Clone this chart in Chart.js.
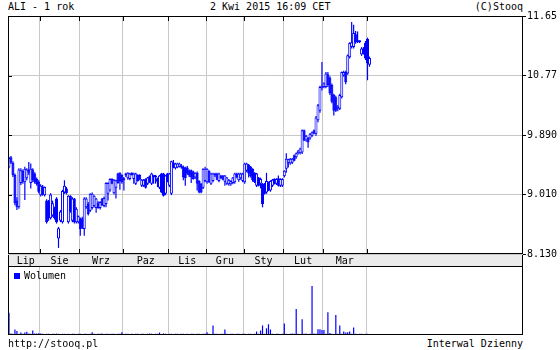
<!DOCTYPE html>
<html>
<head>
<meta charset="utf-8">
<script src="https://cdn.jsdelivr.net/npm/chart.js@4.4.1/dist/chart.umd.min.js"></script>
<style>
  body { margin: 0; background: #fff; }
  #wrap { position: relative; width: 560px; height: 350px; overflow: hidden; font: 10px 'DejaVu Sans Mono', monospace; line-height: 12px; color: #000; }
  #wrap div, #wrap canvas { position: absolute; }
  .txt { white-space: pre; }
  #strip { left: 8px; top: 254px; width: 515px; height: 12px; background: #ebebeb; border-left: 1px solid #000; border-right: 1px solid #000; box-sizing: border-box; }
  #legendBox { left: 14px; top: 273px; width: 6px; height: 6px; background: #0000ff; }
</style>
</head>
<body>
<div id="wrap">
  <div class="txt" style="left:8px;top:1px">ALI - 1 rok</div>
  <div class="txt" style="left:210px;top:1px">2 Kwi 2015 16:09 CET</div>
  <div class="txt" style="right:37px;top:1px">(C)Stooq</div>
  <div id="strip"></div>
  <canvas id="price" width="560" height="266" style="left:0;top:0"></canvas>
  <canvas id="volume" width="560" height="70" style="left:0;top:266px"></canvas>
  <div id="legendBox"></div>
  <div class="txt" style="left:24px;top:270px">Wolumen</div>
  <div class="txt" style="left:8px;top:338px">http://stooq.pl</div>
  <div class="txt" style="right:37px;top:338px">Interwal Dzienny</div>
</div>
<script>
const monthLabels = ['Lip', 'Sie', 'Wrz', 'Paz', 'Lis', 'Gru', 'Sty', 'Lut', 'Mar']
const monthTicks = [9, 26, 47, 69.5, 90.5, 109.5, 129, 149, 170]
const monthStarts = [16, 36, 58, 81, 100, 119, 139, 159, 181]
const priceTicks = [8.13, 9.01, 9.89, 10.77, 11.65]

const openPrices = [
  9.41, 9.56, 9.48, 9.30, 8.92, 8.82, 9.18, 9.36, 9.19, 9.25,
  9.38, 9.18, 9.38, 9.32, 9.24, 9.20, 9.00, 9.13, 9.00, 8.92,
  8.90, 8.66, 8.70, 8.81, 8.95, 8.36, 8.62, 8.60, 9.04, 9.10,
  8.60, 8.99, 8.62, 8.95, 8.60, 8.60, 8.65, 8.66, 8.50, 8.82,
  8.87, 8.77, 8.81, 8.84, 8.81, 8.89, 8.81, 8.95, 8.84, 8.87,
  9.02, 9.07, 9.24, 9.03, 9.11, 9.32, 9.33, 9.30, 9.25, 9.29,
  9.25, 9.24, 9.33, 9.24, 9.17, 9.30, 9.30, 9.14, 9.14, 9.24,
  9.17, 9.28, 9.17, 9.27, 9.26, 9.25, 9.11, 9.32, 9.32, 9.02,
  9.32, 9.14, 9.02, 9.48, 9.40, 9.41, 9.42, 9.41, 9.42, 9.41,
  9.41, 9.37, 9.37, 9.35, 9.26, 9.33, 9.21, 9.17, 9.11, 9.21,
  9.19, 9.36, 9.17, 9.21, 9.29, 9.32, 9.21, 9.29, 9.29, 9.20,
  9.17, 9.16, 9.16, 9.18, 9.19, 9.32, 9.22, 9.25, 9.21, 9.19,
  9.36, 9.45, 9.42, 9.39, 9.33, 9.14, 9.26, 9.17, 9.17, 9.17,
  9.04, 9.19, 9.07, 9.14, 9.24, 9.17, 9.25, 9.14, 9.14, 9.28,
  9.39, 9.48, 9.47, 9.48, 9.59, 9.56, 9.62, 9.62, 9.63, 9.96,
  9.81, 9.85, 9.84, 9.88, 9.96, 9.91, 10.11, 10.25, 10.58, 10.60,
  10.60, 10.79, 10.74, 10.63, 10.48, 10.45, 10.28, 10.28, 10.45, 10.77,
  10.82, 10.80, 11.04, 11.19, 11.19, 11.38, 11.26, 11.28, 11.08, 11.17,
  11.25, 11.31, 10.93
]
const highPrices = [
  9.57, 9.58, 9.50, 9.32, 8.97, 9.40, 9.40, 9.38, 9.42, 9.40,
  9.49, 9.47, 9.40, 9.34, 9.26, 9.22, 9.16, 9.15, 9.13, 8.94,
  8.93, 9.03, 8.92, 8.83, 8.97, 8.53, 8.78, 9.08, 9.22, 9.12,
  9.00, 9.00, 8.97, 8.96, 8.82, 8.70, 8.67, 8.68, 8.97, 8.97,
  8.90, 9.03, 9.04, 9.00, 8.96, 8.91, 8.91, 8.96, 8.98, 9.19,
  9.19, 9.25, 9.25, 9.24, 9.23, 9.33, 9.34, 9.31, 9.27, 9.33,
  9.34, 9.33, 9.34, 9.33, 9.33, 9.31, 9.31, 9.24, 9.24, 9.25,
  9.27, 9.29, 9.33, 9.30, 9.30, 9.26, 9.30, 9.33, 9.33, 9.30,
  9.33, 9.33, 9.51, 9.52, 9.48, 9.48, 9.48, 9.46, 9.44, 9.42,
  9.43, 9.38, 9.38, 9.36, 9.34, 9.35, 9.22, 9.18, 9.40, 9.42,
  9.40, 9.37, 9.33, 9.33, 9.33, 9.33, 9.33, 9.30, 9.30, 9.30,
  9.27, 9.24, 9.22, 9.27, 9.33, 9.33, 9.33, 9.33, 9.33, 9.48,
  9.48, 9.46, 9.43, 9.40, 9.34, 9.33, 9.27, 9.26, 9.18, 9.18,
  9.33, 9.20, 9.22, 9.24, 9.25, 9.25, 9.29, 9.25, 9.25, 9.37,
  9.62, 9.54, 9.55, 9.55, 9.60, 9.63, 9.67, 9.70, 9.97, 9.97,
  9.89, 9.86, 9.92, 9.94, 9.97, 10.17, 10.35, 10.62, 10.97, 10.67,
  10.82, 10.82, 10.76, 10.65, 10.50, 10.47, 10.33, 10.50, 10.83, 10.84,
  10.84, 11.08, 11.26, 11.56, 11.52, 11.43, 11.42, 11.29, 11.19, 11.19,
  11.28, 11.33, 11.05
]
const lowPrices = [
  9.40, 9.46, 9.27, 8.85, 8.78, 8.80, 9.15, 9.17, 8.93, 9.22,
  9.30, 9.10, 9.19, 9.17, 9.14, 9.03, 8.98, 8.99, 8.98, 8.58,
  8.62, 8.64, 8.68, 8.64, 8.58, 8.22, 8.60, 8.58, 9.02, 9.01,
  8.58, 8.74, 8.60, 8.58, 8.58, 8.58, 8.40, 8.50, 8.40, 8.80,
  8.70, 8.75, 8.79, 8.82, 8.74, 8.80, 8.79, 8.84, 8.82, 8.82,
  8.92, 9.05, 9.16, 9.01, 8.95, 9.17, 9.08, 9.17, 9.07, 9.27,
  9.23, 9.22, 9.29, 9.17, 9.15, 9.20, 9.22, 9.12, 9.12, 9.10,
  9.15, 9.18, 9.15, 9.17, 9.17, 9.12, 9.09, 9.03, 8.98, 9.00,
  9.19, 9.12, 9.00, 9.40, 9.38, 9.40, 9.41, 9.39, 9.22, 9.14,
  9.30, 9.27, 9.18, 9.23, 9.24, 9.07, 9.03, 9.03, 9.09, 9.19,
  9.17, 9.18, 9.15, 9.19, 9.27, 9.22, 9.19, 9.24, 9.22, 9.14,
  9.15, 9.14, 9.14, 9.16, 9.17, 9.25, 9.20, 9.23, 9.19, 9.17,
  9.34, 9.26, 9.26, 9.20, 9.18, 9.12, 9.13, 9.10, 8.82, 9.01,
  9.02, 9.06, 9.05, 9.12, 9.16, 9.15, 9.13, 9.12, 9.12, 9.26,
  9.33, 9.41, 9.45, 9.46, 9.50, 9.54, 9.60, 9.60, 9.61, 9.80,
  9.79, 9.70, 9.82, 9.86, 9.90, 9.88, 10.08, 10.22, 10.55, 10.58,
  10.58, 10.60, 10.48, 10.36, 10.18, 10.23, 10.24, 10.26, 10.43, 10.75,
  10.64, 10.78, 11.02, 11.17, 11.17, 11.24, 11.25, 11.25, 11.06, 11.08,
  11.00, 10.70, 10.90
]
const closePrices = [
  9.55, 9.48, 9.30, 8.88, 8.82, 9.38, 9.37, 9.20, 9.39, 9.38,
  9.33, 9.39, 9.22, 9.19, 9.16, 9.05, 9.14, 9.01, 9.12, 8.60,
  8.66, 9.01, 8.88, 8.66, 8.60, 8.51, 8.76, 9.06, 9.14, 9.03,
  8.99, 8.76, 8.95, 8.60, 8.80, 8.69, 8.50, 8.52, 8.95, 8.95,
  8.72, 9.02, 9.02, 8.99, 8.95, 8.81, 8.90, 8.85, 8.96, 9.18,
  9.18, 9.24, 9.17, 9.23, 9.22, 9.18, 9.21, 9.19, 9.22, 9.32,
  9.33, 9.32, 9.30, 9.32, 9.32, 9.21, 9.23, 9.23, 9.23, 9.11,
  9.26, 9.20, 9.32, 9.29, 9.29, 9.20, 9.29, 9.04, 8.99, 9.29,
  9.20, 9.32, 9.50, 9.41, 9.47, 9.47, 9.47, 9.44, 9.27, 9.25,
  9.32, 9.29, 9.26, 9.24, 9.33, 9.17, 9.04, 9.04, 9.39, 9.39,
  9.39, 9.19, 9.32, 9.32, 9.32, 9.23, 9.32, 9.25, 9.23, 9.29,
  9.26, 9.23, 9.21, 9.26, 9.32, 9.26, 9.32, 9.32, 9.32, 9.47,
  9.47, 9.32, 9.28, 9.22, 9.19, 9.32, 9.14, 9.24, 8.87, 9.02,
  9.21, 9.07, 9.21, 9.23, 9.17, 9.24, 9.14, 9.24, 9.24, 9.36,
  9.54, 9.53, 9.54, 9.54, 9.51, 9.62, 9.66, 9.69, 9.96, 9.81,
  9.88, 9.78, 9.91, 9.93, 9.91, 10.15, 10.33, 10.60, 10.62, 10.65,
  10.80, 10.63, 10.51, 10.38, 10.25, 10.25, 10.31, 10.48, 10.82, 10.82,
  10.67, 11.07, 11.25, 11.26, 11.40, 11.26, 11.28, 11.26, 11.17, 11.10,
  11.02, 10.95, 11.03
]
const volumes = [
  110, 7, 6, 27, 20, 6, 12, 6, 12, 16,
  7, 6, 22, 8, 8, 9, 8, 6, 5, 6,
  6, 5, 6, 6, 7, 6, 5, 6, 6, 5,
  6, 5, 6, 6, 5, 6, 6, 5, 6, 6,
  5, 6, 13, 6, 5, 6, 6, 8, 5, 6,
  6, 5, 6, 6, 5, 6, 6, 13, 5, 6,
  6, 5, 6, 5, 6, 6, 5, 6, 6, 5,
  6, 8, 6, 5, 6, 6, 12, 5, 8, 6,
  5, 6, 6, 5, 6, 6, 5, 6, 6, 5,
  6, 5, 6, 6, 5, 6, 6, 5, 6, 6,
  13, 6, 5, 47, 6, 6, 5, 6, 6, 27,
  6, 5, 6, 6, 5, 6, 6, 5, 6, 6,
  5, 6, 6, 5, 6, 17, 6, 22, 47, 6,
  33, 53, 27, 6, 5, 6, 6, 5, 6, 57,
  6, 5, 6, 8, 6, 128, 6, 5, 78, 6,
  8, 5, 6, 242, 8, 6, 28, 28, 25, 25,
  6, 112, 10, 6, 5, 98, 6, 47, 6, 17,
  12, 13, 17, 6, 37, 6, 5, 6, 6, 5,
  6, 6, 5
]

const BLUE = '#0000ff'
const GRID = '#c8c8c8'
const axisDays = 260

Chart.defaults.font.family = "'DejaVu Sans Mono', monospace"
Chart.defaults.font.size = 10
Chart.defaults.color = '#000'

// black box round the plot area
const framePlugin = {
  id: 'frame',
  afterDraw(chart) {
    const { ctx, chartArea: a } = chart
    ctx.save()
    ctx.strokeStyle = '#000'
    ctx.lineWidth = 1
    ctx.strokeRect(a.left + 0.5, a.top + 0.5, a.right - a.left - 1, a.bottom - a.top - 1)
    ctx.restore()
  }
}

// short tick marks pointing into the price panel
const innerTicks = {
  id: 'innerTicks',
  afterDraw(chart) {
    const { ctx, chartArea: a, scales } = chart
    ctx.save()
    ctx.strokeStyle = '#000'
    ctx.lineWidth = 1
    ctx.beginPath()
    monthStarts.forEach(v => {
      const px = Math.round(scales.x.getPixelForValue(v)) + 0.5
      ctx.moveTo(px, a.top)
      ctx.lineTo(px, a.top + 5)
      ctx.moveTo(px, a.bottom)
      ctx.lineTo(px, a.bottom - 5)
    })
    priceTicks.slice(1, -1).forEach(v => {
      const py = Math.round(scales.y.getPixelForValue(v)) + 0.5
      ctx.moveTo(a.left, py)
      ctx.lineTo(a.left + 4, py)
    })
    ctx.stroke()
    ctx.restore()
  }
}

const monthGrid = {
  type: 'linear',
  min: 0,
  max: axisDays,
  offset: false,
  grid: { color: GRID, offset: false, drawTicks: false },
  border: { display: false },
  ticks: { display: false },
  afterBuildTicks: s => { s.ticks = monthStarts.map(v => ({ value: v })) },
  afterFit: s => { s.height = 0 }
}

const wicks = lowPrices.map((l, i) => ({ x: i + 0.5, y: [l, highPrices[i]] }))
const bodies = openPrices.map((o, i) => ({ x: i + 0.5, y: [o, closePrices[i]] }))
const bodyFill = openPrices.map((o, i) => closePrices[i] > o ? '#ffffff' : BLUE)

new Chart(document.getElementById('price'), {
  type: 'bar',
  data: {
    datasets: [
      {
        data: bodies,
        backgroundColor: bodyFill,
        borderColor: BLUE,
        borderWidth: 1,
        borderSkipped: false,
        barThickness: 3,
        minBarLength: 2,
        inflateAmount: 0,
        grouped: false,
        order: 1
      },
      {
        data: wicks,
        backgroundColor: BLUE,
        borderWidth: 0,
        barThickness: 1.2,
        minBarLength: 1,
        inflateAmount: 0,
        grouped: false,
        order: 2
      }
    ]
  },
  options: {
    responsive: false,
    animation: false,
    devicePixelRatio: 1,
    layout: { padding: { left: 8, top: 16, right: 0, bottom: 0 } },
    plugins: { legend: { display: false }, tooltip: { enabled: false } },
    scales: {
      x: monthGrid,
      xm: {
        type: 'linear',
        position: 'bottom',
        min: 0,
        max: axisDays,
        offset: false,
        weight: 1,
        grid: { display: false, drawTicks: false },
        border: { display: false },
        ticks: { autoSkip: false, maxRotation: 0, padding: 1, callback: (v, i) => monthLabels[i] },
        afterBuildTicks: s => { s.ticks = monthTicks.map(v => ({ value: v })) },
        afterFit: s => { s.height = 12 }
      },
      y: {
        position: 'right',
        min: 8.13,
        max: 11.65,
        grid: { color: GRID, tickLength: 3, tickColor: '#000' },
        border: { display: false },
        ticks: { padding: 1, callback: v => Number(v).toPrecision(4) },
        afterBuildTicks: s => { s.ticks = priceTicks.map(v => ({ value: v })) },
        afterFit: s => { s.width = 37 }
      }
    }
  },
  plugins: [framePlugin, innerTicks]
})

new Chart(document.getElementById('volume'), {
  type: 'bar',
  data: {
    datasets: [{
      data: volumes.map((v, i) => ({ x: i + 0.5, y: v })),
      backgroundColor: BLUE,
      barThickness: 1.2,
      inflateAmount: 0
    }]
  },
  options: {
    responsive: false,
    animation: false,
    devicePixelRatio: 1,
    layout: { padding: { left: 8, top: 0, right: 37, bottom: 1 } },
    plugins: { legend: { display: false }, tooltip: { enabled: false } },
    scales: {
      x: monthGrid,
      y: { display: false, min: 0, max: 340 }
    }
  },
  plugins: [framePlugin]
})
</script>
</body>
</html>
